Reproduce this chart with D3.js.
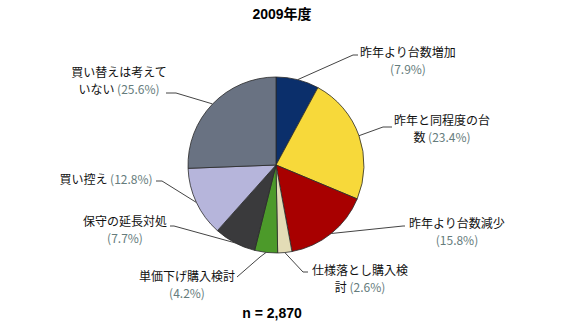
<!DOCTYPE html>
<html>
<head>
<meta charset="utf-8">
<script src="https://cdn.jsdelivr.net/npm/d3@7"></script>
<style>
  html, body { margin: 0; padding: 0; background: #fff; }
  svg { display: block; }
</style>
</head>
<body>
<svg id="chart" width="569" height="330"></svg>
<script>
// Survey answers, clockwise from 12 o'clock
const categories = [
  "昨年より台数増加",
  "昨年と同程度の台数",
  "昨年より台数減少",
  "仕様落とし購入検討",
  "単価下げ購入検討",
  "保守の延長対処",
  "買い控え",
  "買い替えは考えていない"
];
const values = [7.9, 23.4, 15.8, 2.6, 4.2, 7.7, 12.8, 25.6];
const colors = ["#0b2f6b", "#f7d93a", "#a80000", "#e3dcb6", "#4c9a2a", "#3a3a3c", "#b6b5db", "#697282"];
const title = "2009年度";
const sampleNote = "n = 2,870";

// Label block centres (text anchor x, first baseline y) and leader elbows
const labelLayout = [
  { x: 408, y: 57,  elbow: [353, 55],  end: [358, 55] },
  { x: 442, y: 125, elbow: [383, 127], end: [392, 127] },
  { x: 457, y: 228, elbow: [403, 226], end: [405, 226] },
  { x: 360, y: 275, elbow: [303, 272], end: [308, 272] },
  { x: 187, y: 281, elbow: [260, 257], end: [237, 277] },
  { x: 125, y: 226, elbow: [174, 226], end: [170, 226] },
  { x: 106, y: 184, elbow: [162, 181], end: [156, 181] },
  { x: 119, y: 77,  elbow: [176, 93],  end: [166, 93] }
];

const svg = d3.select("#chart");
const cx = 276, cy = 165, r = 88;
const font = "'Liberation Sans', 'Noto Sans CJK JP', sans-serif";

svg.append("text")
  .attr("x", 282).attr("y", 19)
  .attr("text-anchor", "middle")
  .style("font-family", font).style("font-size", "14px").style("font-weight", "bold")
  .text(title);

svg.append("text")
  .attr("x", 272).attr("y", 318)
  .attr("text-anchor", "middle")
  .style("font-family", font).style("font-size", "14px").style("font-weight", "bold")
  .text(sampleNote);

const pie = d3.pie().sort(null).value(d => d)(values);
const arc = d3.arc().innerRadius(0).outerRadius(r);
const g = svg.append("g").attr("transform", `translate(${cx},${cy})`);

g.selectAll("path.slice")
  .data(pie)
  .join("path")
  .attr("class", "slice")
  .attr("d", arc)
  .attr("fill", (d, i) => colors[i])
  .attr("stroke", "#2a2a2a")
  .attr("stroke-width", 0.8)
  .attr("stroke-linejoin", "round");

// Leader lines from the rim at each slice's mid-angle
pie.forEach((d, i) => {
  const a = (d.startAngle + d.endAngle) / 2;
  const px = cx + r * Math.sin(a), py = cy - r * Math.cos(a);
  const L = labelLayout[i];
  svg.append("polyline")
    .attr("points", [[px, py], L.elbow, L.end].map(p => p.join(",")).join(" "))
    .attr("fill", "none")
    .attr("stroke", "#444")
    .attr("stroke-width", 1);
});

// Wrap labels at eight full-width characters; the percentage counts as four
function wrap(name, pct) {
  const maxUnits = 8;
  const lines = [];
  let cur = [];
  for (const ch of name) {
    if (cur.length >= maxUnits) { lines.push({ text: cur.join(""), pct: null }); cur = []; }
    cur.push(ch);
  }
  const pctText = `(${pct.toFixed(1)}%)`;
  if (cur.length + 4 <= maxUnits) {
    lines.push({ text: cur.join(""), pct: pctText });
  } else {
    lines.push({ text: cur.join(""), pct: null });
    lines.push({ text: "", pct: pctText });
  }
  return lines;
}

categories.forEach((name, i) => {
  const L = labelLayout[i];
  const lines = wrap(name, values[i]);
  const t = svg.append("text")
    .attr("text-anchor", "middle")
    .style("font-family", "'Noto Sans CJK JP', sans-serif")
    .style("font-size", "12px")
    .attr("fill", "#111");
  lines.forEach((ln, k) => {
    const ts = t.append("tspan").attr("x", L.x).attr("y", L.y + k * 17);
    if (ln.text) ts.append("tspan").text(ln.text);
    if (ln.pct) {
      ts.append("tspan")
        .attr("fill", "#667c7c")
        .text((ln.text ? " " : "") + ln.pct);
    }
  });
});
</script>
</body>
</html>
